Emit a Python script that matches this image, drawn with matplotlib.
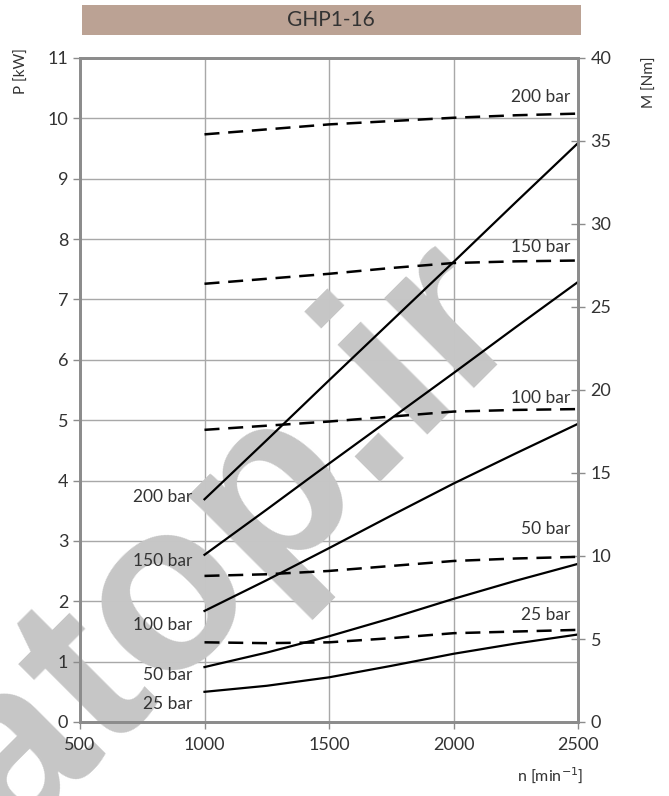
import matplotlib.pyplot as plt

speed = [1000, 1250, 1500, 1750, 2000, 2250, 2500]
pressures = ["200 bar", "150 bar", "100 bar", "50 bar", "25 bar"]

# power P [kW] per pressure (solid lines)
power_200 = [3.69, 4.67, 5.66, 6.64, 7.62, 8.61, 9.59]
power_150 = [2.77, 3.52, 4.28, 5.03, 5.78, 6.54, 7.29]
power_100 = [1.84, 2.35, 2.88, 3.42, 3.95, 4.45, 4.94]
power_50 = [0.91, 1.15, 1.42, 1.72, 2.04, 2.34, 2.62]
power_25 = [0.50, 0.60, 0.74, 0.93, 1.13, 1.30, 1.45]

# torque M [Nm] per pressure (dashed lines)
torque_200 = [35.4, 35.7, 36.0, 36.2, 36.4, 36.55, 36.65]
torque_150 = [26.4, 26.7, 27.0, 27.35, 27.65, 27.75, 27.8]
torque_100 = [17.6, 17.85, 18.1, 18.4, 18.7, 18.8, 18.85]
torque_50 = [8.8, 8.9, 9.1, 9.4, 9.7, 9.85, 9.95]
torque_25 = [4.8, 4.75, 4.8, 5.05, 5.35, 5.45, 5.55]

powers = [power_200, power_150, power_100, power_50, power_25]
torques = [torque_200, torque_150, torque_100, torque_50, torque_25]

x_ticks = [500, 1000, 1500, 2000, 2500]
p_ticks = list(range(0, 12))
m_ticks = list(range(0, 45, 5))

plt.rcParams['font.family'] = ['Lato', 'DejaVu Sans']
spine_c = '#8c8c8c'
grid_c = '#a8a8a8'
text_c = '#333333'

fig = plt.figure(figsize=(6.69, 7.96), dpi=100)

# title bar
fig.patches.append(plt.Rectangle((82 / 669, 1 - 35 / 796), 499 / 669, 30 / 796,
                                 transform=fig.transFigure, facecolor='#bba294',
                                 edgecolor='none'))
fig.text(331 / 669, 1 - 20 / 796, "GHP1-16", ha='center', va='center',
         fontsize=15, color=text_c)

ax = fig.add_axes([80 / 669, 74 / 796, 498 / 669, 664 / 796])
ax2 = ax.twinx()

ax.set_xlim(500, 2500)
ax.set_ylim(0, 11)
ax2.set_ylim(0, 40)
ax.set_xticks(x_ticks)
ax.set_yticks(p_ticks)
ax2.set_yticks(m_ticks)

# grid drawn by hand so the watermark can sit between grid and tick labels
for t in x_ticks:
    ax.axvline(t, color=grid_c, linewidth=1, zorder=0.8)
for t in p_ticks:
    ax.axhline(t, color=grid_c, linewidth=1, zorder=0.8)

for a in (ax, ax2):
    for s in a.spines.values():
        s.set_color(spine_c)
        s.set_linewidth(2)
ax.tick_params(axis='both', colors=spine_c, labelcolor=text_c, labelsize=13,
               length=5, width=1)
ax.tick_params(axis='x', pad=6)
ax2.tick_params(axis='y', colors=spine_c, labelcolor=text_c, labelsize=13,
                length=10, width=1, direction='inout', pad=4)

for pw in powers:
    ax.plot(speed, pw, color='black', linewidth=1.6, zorder=3)
for tq in torques:
    ax2.plot(speed, tq, color='black', linewidth=1.8, dashes=(6, 3.5), zorder=3)

# pressure labels
left_y = [3.73, 2.67, 1.61, 0.78, 0.30]
right_y = [10.35, 7.87, 5.37, 3.20, 1.77]
for name, ly, ry in zip(pressures, left_y, right_y):
    ax.text(950, ly, name, ha='right', va='center', fontsize=12.5, color=text_c, zorder=4)
    ax.text(2470, ry, name, ha='right', va='center', fontsize=12.5, color=text_c, zorder=4)

# axis titles
fig.text(22 / 669, 1 - 48 / 796, "P [kW]", rotation=90, ha='center', va='top',
         fontsize=11, color=text_c)
fig.text(650 / 669, 1 - 56 / 796, "M [Nm]", rotation=90, ha='center', va='top',
         fontsize=11, color=text_c)
fig.text(550 / 669, 1 - 775 / 796, "n [min$^{-1}$]", ha='center', va='center',
         fontsize=11.5, color=text_c)

# watermark
ax.text(198 / 669, 1 - 574 / 796, "tatop.ir", transform=fig.transFigure,
        rotation=45, fontsize=172, fontweight='bold', family='Liberation Sans',
        color='#c6c6c6', ha='center', va='center', zorder=1.2, clip_on=False,
        rotation_mode='anchor')

fig.savefig('out.png', dpi=100)
